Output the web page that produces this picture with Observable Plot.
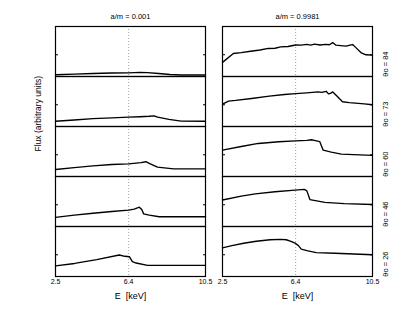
<!DOCTYPE html>
<html><head><meta charset="utf-8">
<script src="https://cdn.jsdelivr.net/npm/d3@7"></script>
<script src="https://cdn.jsdelivr.net/npm/@observablehq/plot@0.6"></script>
<style>body{margin:0;background:#fff}</style>
</head><body><div id="chart"></div>
<script>
const spins = ["0.001", "0.9981"];
const thetas = [84, 73, 60, 46, 26];
const xTicks = [2.5, 6.4, 10.5];
const lineE = [6.4];
const yTicks = [1];

// a/m = 0.001
const E_l84 = [2.5,3.5,4.5,5.5,6.4,7.0,7.4,8.0,8.6,9.2,10.5];
const F_l84 = [0.08,0.11,0.14,0.16,0.17,0.19,0.18,0.14,0.09,0.07,0.07];
const E_l73 = [2.5,3.5,4.5,5.5,6.4,7.0,7.5,7.76,7.95,8.55,9.2,10.5];
const F_l73 = [0.24,0.3,0.36,0.4,0.43,0.45,0.47,0.49,0.43,0.33,0.25,0.24];
const E_l60 = [2.5,3.5,4.5,5.5,6.4,7.06,7.32,7.5,7.76,7.94,8.8,10.5];
const F_l60 = [0.32,0.41,0.49,0.55,0.58,0.64,0.68,0.6,0.5,0.43,0.35,0.35];
const E_l46 = [2.5,3.5,4.5,5.5,6.4,6.7,6.97,7.1,7.2,7.5,8.03,10.5];
const F_l46 = [0.42,0.52,0.61,0.69,0.75,0.8,0.89,0.78,0.58,0.52,0.45,0.45];
const E_l26 = [2.5,3.52,4.7,5.9,6.2,6.44,6.6,6.8,7.41,10.5];
const F_l26 = [0.49,0.6,0.78,0.99,0.93,0.91,0.68,0.62,0.51,0.51];

// a/m = 0.9981
const E_r84 = [2.5,3.08,3.5,4.0,4.5,4.94,5.3,5.6,6.0,6.4,6.7,7.0,7.2,7.41,7.7,8.0,8.2,8.38,8.55,8.8,9.1,9.3,9.44,9.6,9.88,10.15,10.5];
const F_r84 = [0.65,1.06,1.1,1.16,1.22,1.29,1.3,1.36,1.38,1.45,1.44,1.48,1.44,1.49,1.45,1.48,1.46,1.56,1.44,1.42,1.4,1.44,1.47,1.34,1.1,1.0,0.98];
const E_r73 = [2.5,2.82,3.2,4.05,5.0,5.8,6.4,7.0,7.59,7.8,8.03,8.15,8.25,8.38,8.6,8.9,9.26,10.06,10.5];
const F_r73 = [1.03,1.17,1.2,1.29,1.4,1.47,1.51,1.55,1.59,1.57,1.62,1.5,1.52,1.59,1.4,1.14,1.1,1.04,1.0];
const E_r60 = [2.5,3.5,4.41,5.5,6.4,7.0,7.25,7.45,7.69,7.87,8.3,8.84,10.5];
const F_r60 = [1.21,1.38,1.52,1.6,1.64,1.66,1.69,1.65,1.6,1.21,1.12,1.03,0.97];
const E_r46 = [2.5,3.5,4.25,5.3,6.37,6.86,7.0,7.16,7.96,9.0,10.5];
const F_r46 = [1.22,1.4,1.5,1.6,1.67,1.71,1.64,1.24,1.11,1.05,1.01];
const E_r26 = [2.5,3.0,3.63,4.3,5.04,5.6,5.9,6.15,6.4,6.55,6.7,7.0,7.5,8.5,10.5];
const F_r26 = [1.32,1.42,1.53,1.62,1.69,1.71,1.69,1.62,1.52,1.42,1.26,1.19,1.1,1.07,1.0];

const panels = [
  {spin: spins[0], theta: 84, E: E_l84, F: F_l84},
  {spin: spins[0], theta: 73, E: E_l73, F: F_l73},
  {spin: spins[0], theta: 60, E: E_l60, F: F_l60},
  {spin: spins[0], theta: 46, E: E_l46, F: F_l46},
  {spin: spins[0], theta: 26, E: E_l26, F: F_l26},
  {spin: spins[1], theta: 84, E: E_r84, F: F_r84},
  {spin: spins[1], theta: 73, E: E_r73, F: F_r73},
  {spin: spins[1], theta: 60, E: E_r60, F: F_r60},
  {spin: spins[1], theta: 46, E: E_r46, F: F_r46},
  {spin: spins[1], theta: 26, E: E_r26, F: F_r26}
];
const rows = panels.flatMap(p => p.E.map((e, i) => ({spin: p.spin, theta: p.theta, E: e, F: p.F[i]})));

const titles = spins.map(s => ({spin: s, theta: thetas[0], label: "a/m = " + s}));
const xlabels = spins.map(s => ({spin: s, theta: thetas[thetas.length - 1], label: "E  [keV]"}));
const rowLabels = thetas.map(t => ({spin: spins[1], theta: t, label: "θo = " + t}));
const yLabel = [{spin: spins[0], theta: thetas[2], label: "Flux (arbitrary units)"}];

const plot = Plot.plot({
  width: 415, height: 311,
  marginLeft: 54, marginRight: 42, marginTop: 24.5, marginBottom: 34,
  style: {fontFamily: "'Liberation Sans', Arial, sans-serif", fontSize: "7px", background: "#fff", color: "#000"},
  x: {domain: [2.5, 10.5]},
  y: {domain: [0, 2.3]},
  fx: {domain: spins, paddingInner: 0.101, paddingOuter: 0, axis: null},
  fy: {domain: thetas, padding: 0, axis: null},
  marks: [
    Plot.ruleX(lineE, {stroke: "#8a8a8a", strokeWidth: 0.8, strokeDasharray: "1,2"}),
    Plot.line(rows, {x: "E", y: "F", fx: "spin", fy: "theta", stroke: "#000", strokeWidth: 1.35}),
    Plot.frame({stroke: "#000", strokeWidth: 1.2}),
    Plot.axisY({anchor: "left", ticks: yTicks, tickSize: -3, tickFormat: () => "", label: null, facetAnchor: null}),
    Plot.axisY({anchor: "right", ticks: yTicks, tickSize: -3, tickFormat: () => "", label: null, facetAnchor: null}),
    Plot.axisX({ticks: xTicks, tickSize: 0, tickPadding: 3, tickFormat: d => String(d), label: null, fontSize: 7}),
    Plot.text(titles, {fx: "spin", fy: "theta", text: "label", frameAnchor: "top", lineAnchor: "bottom", dy: -7.5, fontSize: 7.5, ariaLabel: "coltitle"}),
    Plot.text(xlabels, {fx: "spin", fy: "theta", text: "label", frameAnchor: "bottom", lineAnchor: "middle", dy: 19.5, fontSize: 9, ariaLabel: "xlabel"}),
    Plot.text(rowLabels, {fx: "spin", fy: "theta", text: "label", frameAnchor: "right", lineAnchor: "middle", dx: 13, rotate: -90, fontSize: 7.5, ariaLabel: "rowlabel"}),
    Plot.text(yLabel, {fx: "spin", fy: "theta", text: "label", frameAnchor: "left", lineAnchor: "middle", dx: -17, rotate: -90, fontSize: 8.5, ariaLabel: "ylabel"})
  ]
});

const svg = d3.select(plot);
svg.selectAll('g[aria-label="coltitle"] text').each(function() {
  const t = d3.select(this); const s = t.text(); const rest = s.replace("a/m", "");
  t.text(null);
  t.append("tspan").attr("font-style", "italic").attr("font-family", "'Liberation Serif', serif").attr("font-size", 8.5).text("a/m");
  t.append("tspan").text(rest);
});
svg.selectAll('g[aria-label="xlabel"] text').each(function() {
  const t = d3.select(this); const s = t.text(); const rest = s.slice(1);
  t.text(null);
  t.append("tspan").attr("font-style", "italic").text(s[0]);
  t.append("tspan").attr("xml:space", "preserve").style("white-space", "pre").text(rest);
});
svg.selectAll('g[aria-label="rowlabel"] text').each(function() {
  const t = d3.select(this); const s = t.text(); const rest = s.slice(2);
  t.text(null);
  t.append("tspan").text(s[0]);
  t.append("tspan").attr("font-size", 5.5).attr("dy", 1.8).text(s[1]);
  t.append("tspan").attr("dy", -1.8).text(rest);
});
document.getElementById("chart").appendChild(plot);
</script>
</body></html>
